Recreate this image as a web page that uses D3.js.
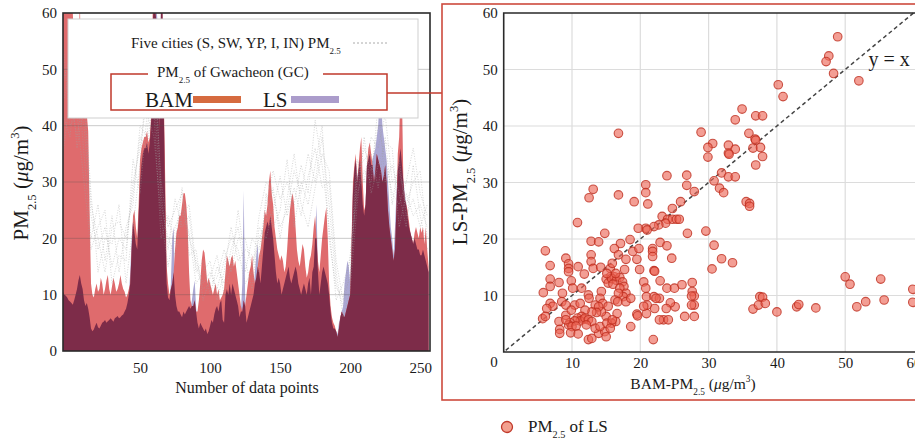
<!DOCTYPE html>
<html><head><meta charset="utf-8">
<script src="https://cdn.jsdelivr.net/npm/d3@7"></script>
<style>body{margin:0;background:#fff}svg text{font-family:"Liberation Serif","DejaVu Serif",serif;fill:#1a1a1a}</style>
</head><body><svg id="c" width="915" height="441"></svg>
<script>
// ---- Time series (index i plotted at x = i - 5) ----
const bam = [62,61,62,60,61,60,62,60,54,52,55,50,63,48,46,44,45,42,39,
25,12,10,9.5,11,12,10.5,11,13,12,10,11,12.5,13.5,11,10,11.5,13,12,10.5,11,12,13.5,12,11,10.5,9.5,10,11,
12,18,24,25,22,20,26,34,36,37,38,
38,39,37,38,42,60,62,60,58,55,40,62,60,45,
30,15,12,10,11,12,14,18,21,22,24,24,26,28,28,26,22,14,9,8,8,9,7,7,9,12,16,18,17.5,15,12,13,12,11,10,11,12,10,
11,9,9.5,10,11,14,17,16,15,16.5,17,15,16,14,12,10,8,7,9,8,10,12,14,15,17,14,12,13,15,17,
18,20,22,25,24,26,30,32,28,26,22,20,18,17,16,17,16,14,15,18,22,25,27,28,26,22,18,16,15,17,19,18,15,13,14,16,17,19,22,24,20,16,14,17,20,22,24,25.5,20,12,
8,6,5,4.5,3.5,2.5,4,6,7,6.5,6,7,8,9,10,20,30,33,35,30,33,36,38,30,25,26,33,36,37,35,33,30,32,35,34,33,32,30,31,33,30,25,22,20,18,16,18,25,35,38,47,45,30,27,26,25,23,21,20,19,21,22,21,20,22,21,22,19,22,18,15];
const ls = [10.5,10,9.8,9.5,9,8.8,8.5,8.2,9,10,11,12.5,13.5,12,11,9,8,8.5,7.5,
6,4,3.5,3.8,4.5,5,4.2,4,4.5,5,5.2,5.5,5,5.3,5.5,5.8,5.5,5.2,5.8,6,6.2,5.8,6,6.3,6.5,7,7.5,8.5,10,
14,20,23,21,19,18,24,30,33,35,36,
36,37,35,37,41,58,62,63,60,57,39,63,61,42,
25,12,9.5,9,12,20,22,10,8,7,7,6.5,6,7,6.5,7,7.5,8,7.5,9,11,12.5,8,5,4,5,4.5,4,3.5,4,3,3.5,4.5,5.5,5,6.5,7.5,8,
7,8.5,9,5.5,5,10,11,10,12,10,12,11,10,9,8,6,7,12,28.5,10,5,6,7,8,9,10,14,17,19,14,
12,15,18,21,22,23,22,24,22,20,17,14,12,13,12,10,11,12,13,14,15,13,12,13,14,15,14,12,11,10,11,12,11,10,12,13,10,14,15,20,26,14,10,12,14,15,14,13,12,10,
7,5,4,4,3.5,3,5,6,7,8,12,14,16,15,12,18,28,32,34,31,32,34,30,26,24,26,33,34,35,33,34,35,36,38,40,45,47,40,38,36,34,30,26,22,20,17,22,28,32,34,36,33,30,28,26,24,22,21,20,19,20,19,18,18,17,17,18,17,16,15,14];
// Five cities, sampled every 5th index
const city1 = [48,52,45,40,24,18,22,15,20,18,30,36,45,50,30,22,25,28,20,16,12,14,11,16,20,18,12,14,24,30,28,22,25,32,28,35,30,38,26,12,8,14,30,36,32,40,34,28,26,30,36,28,24];
const city2 = [42,38,50,35,20,26,16,24,14,22,26,40,38,55,28,18,27,22,24,14,16,10,15,12,18,22,14,20,18,26,32,27,30,26,33,28,41,33,22,9,12,16,34,30,38,36,42,30,32,26,30,32,20];
const city3 = [35,45,38,46,28,14,20,19,26,12,22,33,50,42,20,24,19,29,17,18,9,13,17,10,15,25,16,11,22,20,25,31,24,29,24,31,36,29,30,14,6,11,26,38,28,33,37,36,22,28,24,26,22];
const city4 = [55,40,42,30,18,22,25,12,17,16,34,28,42,38,24,15,22,25,21,12,14,16,9,14,22,16,18,17,14,28,22,25,34,22,30,26,33,40,20,11,10,13,32,34,35,29,38,26,34,24,27,22,26];
const city5 = [44,50,36,44,26,20,14,22,23,20,28,38,36,46,26,20,17,24,26,15,11,12,13,18,14,20,20,15,20,23,29,20,27,35,26,22,29,35,32,16,9,17,28,32,30,44,30,33,28,22,33,24,18];
const leftYTicks = [0,10,20,30,40,50,60];
const leftXTicks = [50,100,150,200,250];
// ---- Scatter ----
const scatterBAM = [48.9,47.6,47.2,48.3,52.0,40.2,40.9,34.9,36.9,37.9,33.9,28.9,35.9,36.8,36.9,16.8,30.6,29.9,32.9,36.5,37.6,33.9,32.9,33.0,29.9,37.9,36.9,30.8,31.9,32.9,33.9,31.6,32.2,27.9,26.8,26.8,23.9,20.8,20.8,16.8,13.1,12.5,35.5,36.0,36.0,
19.1,21.1,25.9,24.7,23.2,24.0,24.7,25.3,25.7,10.8,23.7,22.7,22.0,20.8,19.7,26.9,29.6,14.8,30.8,31.9,30.5,33.5,21.0,12.8,13.9,17.1,18.5,6.1,16.2,18.9,19.8,22.9,23.9,21.8,21.8,21.8,24.6,12.8,12.8,13.1,16.8,17.9,19.5,9.1,9.5,9.5,9.5,6.8,6.8,6.8,8.1,10.9,11.8,14.2,15.6,15.9,17.7,19.9,22.0,22.1,
16.2,15.6,15.0,15.3,15.8,16.5,17.0,16.4,16.0,17.4,17.6,17.0,17.9,17.5,16.8,16.3,
15.1,9.9,10.1,11.4,12.4,14.3,14.1,5.8,8.6,8.5,9.1,10.4,11.2,12.5,13.4,14.5,15.3,16.7,17.9,18.6,20.5,20.8,20.9,22.0,22.8,22.9,23.9,25.0,26.1,27.6,27.6,27.9,27.5,27.9,27.5,27.9,26.5,25.1,24.4,23.8,23.4,24.1,22.8,22.3,22.1,21.0,20.9,20.5,19.5,19.6,18.6,21.9,16.6,16.4,15.8,15.0,14.3,13.9,13.6,12.9,11.9,11.4,
10.8,11.7,11.2,10.4,9.7,9.5,10.0,10.6,11.9,12.4,12.9,12.1,
8.1,8.2,8.2,9.8,10.9,12.4,12.9,13.9,14.8,15.0,13.4,14.1,15.1,15.6,15.9,6.8,7.2,6.3,5.7,6.1,9.1,9.9,9.1,
36.5,37.3,37.5,37.9,38.3,40.0,42.9,43.2,45.7,50.0,50.7,51.7,53.0,55.2,55.7,59.9,59.9];
const scatterLS = [55.8,52.4,51.4,49.3,48.0,47.3,45.2,43.0,41.8,41.8,41.1,38.9,38.7,37.7,37.5,38.7,36.9,36.2,36.6,36.1,36.2,35.9,35.2,35.0,34.5,34.6,33.1,30.3,31.7,31.0,31.0,29.0,28.2,28.4,31.3,29.5,31.2,29.6,28.2,27.8,28.8,27.3,26.6,26.3,25.8,
26.6,26.2,26.6,25.4,24.0,23.5,23.5,23.5,23.5,22.9,22.8,22.5,22.2,21.9,21.9,21.0,21.4,21.0,18.9,16.5,14.7,15.8,21.6,19.6,19.5,19.2,19.9,17.9,18.3,17.8,18.3,19.4,18.8,18.3,17.8,16.9,16.6,17.2,16.0,14.8,17.2,16.4,16.4,16.6,15.6,14.8,14.2,15.3,12.9,11.6,12.3,15.1,13.8,15.0,14.8,15.7,14.6,14.6,14.4,14.3,
13.3,13.3,12.9,12.2,13.0,12.7,13.2,13.9,12.0,12.4,11.6,11.3,10.4,9.8,10.4,9.2,
13.9,12.6,11.3,11.3,10.1,10.7,9.5,10.5,10.4,8.9,8.3,8.3,8.6,9.5,8.3,8.6,8.1,8.9,8.9,9.5,12.4,11.3,9.8,9.8,9.5,12.6,11.3,11.3,11.9,12.3,10.7,9.9,9.9,8.3,8.3,6.3,6.3,8.0,8.7,7.7,5.7,5.7,5.7,9.5,7.7,8.3,6.8,8.1,6.7,6.4,4.5,2.2,6.8,5.4,5.1,6.3,7.1,8.0,7.0,7.1,7.4,6.3,
6.0,5.8,5.5,5.5,5.2,4.8,4.5,4.6,6.0,5.7,5.4,4.8,
5.4,4.0,3.3,3.4,3.2,2.2,2.4,3.3,3.6,2.7,4.2,4.5,5.1,4.2,5.7,8.6,8.1,7.7,5.9,6.3,6.5,7.4,5.7,
7.6,8.3,9.8,9.7,8.6,7.1,8.0,8.4,7.8,13.3,12.0,8.0,8.9,12.9,9.2,11.1,8.8];
const rightTicks = [10,20,30,40,50,60];

const svg = d3.select('#c');

function rich(g, x, y, size, parts, anchor) {
  const t = g.append('text').attr('x', x).attr('y', y).attr('font-size', size)
    .attr('text-anchor', anchor || 'start');
  let shift = 0;
  parts.forEach(([s, k]) => {
    const target = k === 'sub' ? size * 0.38 : k === 'sup' ? -size * 0.42 : 0;
    const ts = t.append('tspan').attr('dy', target - shift).text(s);
    if (k === 'sub' || k === 'sup') ts.attr('font-size', size * 0.6);
    if (k === 'it') ts.attr('font-style', 'italic');
    shift = target;
  });
  return t;
}

// ================= LEFT CHART =================
const xL = d3.scaleLinear().domain([-5, 257]).range([63, 430]);
const yL = d3.scaleLinear().domain([0, 60]).range([351, 13]);
const gL = svg.append('g');
svg.append('clipPath').attr('id', 'clipL').append('rect')
  .attr('x', 63).attr('y', 13).attr('width', 367).attr('height', 338);
const plotL = gL.append('g').attr('clip-path', 'url(#clipL)');
const idx = d3.range(bam.length);
const area = acc => d3.area().x(i => xL(i - 5)).y0(yL(0)).y1(i => yL(acc(i)));
plotL.append('path').datum(idx).attr('d', area(i => ls[i])).attr('fill', '#aba7d3');
plotL.append('path').datum(idx).attr('d', area(i => bam[i])).attr('fill', '#df6b6d');
plotL.append('path').datum(idx).attr('d', area(i => Math.min(bam[i], ls[i]))).attr('fill', '#7d2c49');
// grid
plotL.selectAll('.gl').data([10, 20, 30, 40, 50]).enter().append('line')
  .attr('x1', 63).attr('x2', 430).attr('y1', d => yL(d)).attr('y2', d => yL(d))
  .attr('stroke', 'rgba(80,80,80,0.3)').attr('stroke-width', 1);
// city lines
const lineC = d3.line().x((d, k) => xL(k * 5 - 5)).y(d => yL(d));
[city1, city2, city3, city4, city5].forEach(c => {
  plotL.append('path').datum(c).attr('d', lineC).attr('fill', 'none')
    .attr('stroke', '#a0a0a0').attr('stroke-width', 0.8).attr('stroke-dasharray', '1,1.6').attr('opacity', 0.55);
});
gL.append('rect').attr('x', 63).attr('y', 13).attr('width', 367).attr('height', 338)
  .attr('fill', 'none').attr('stroke', '#2a2a2a').attr('stroke-width', 1.6);
// axes
const axL = gL.append('g').attr('transform', 'translate(63,0)')
  .call(d3.axisLeft(yL).tickValues(leftYTicks).tickSize(0).tickPadding(6));
const axB = gL.append('g').attr('transform', 'translate(0,351)')
  .call(d3.axisBottom(xL).tickValues(leftXTicks).tickSize(0).tickPadding(11));
[axL, axB].forEach(a => {
  a.select('.domain').remove();
  a.selectAll('text').attr('font-size', 15).attr('font-family', '"Liberation Serif",serif').attr('fill', '#1a1a1a');
});
gL.append('text').attr('x', 247).attr('y', 393).attr('text-anchor', 'middle').attr('font-size', 16)
  .text('Number of data points');
const yLab = gL.append('g').attr('transform', 'translate(28,183) rotate(-90)');
rich(yLab, 0, 0, 21, [['PM', 'n'], ['2.5', 'sub'], [' (', 'n'], ['μ', 'it'], ['g/m', 'n'], ['3', 'sup'], [')', 'n']], 'middle');

// legend
gL.append('rect').attr('x', 68).attr('y', 19).attr('width', 350).attr('height', 99)
  .attr('fill', '#fff').attr('stroke', '#cfcfcf').attr('stroke-width', 1);
rich(gL, 131, 48, 15, [['Five cities (S, SW, YP, I, IN) PM', 'n'], ['2.5', 'sub']]);
gL.append('line').attr('x1', 353).attr('x2', 388).attr('y1', 43).attr('y2', 43)
  .attr('stroke', '#aaa').attr('stroke-width', 1).attr('stroke-dasharray', '2,2');
gL.append('path').attr('d', 'M148,74 H111 V110 H387 V74 H323').attr('fill', 'none')
  .attr('stroke', '#c0392b').attr('stroke-width', 1.5);
rich(gL, 157, 77, 15, [['PM', 'n'], ['2.5', 'sub'], [' of Gwacheon (GC)', 'n']]);
gL.append('text').attr('x', 145).attr('y', 107).attr('font-size', 21).text('BAM');
gL.append('rect').attr('x', 193).attr('y', 96).attr('width', 48).attr('height', 7).attr('fill', '#d66b3f');
gL.append('text').attr('x', 263).attr('y', 107).attr('font-size', 21).text('LS');
gL.append('rect').attr('x', 291).attr('y', 96).attr('width', 48).attr('height', 7).attr('fill', '#ab9ccb');
// connector
svg.append('line').attr('x1', 387).attr('x2', 442).attr('y1', 93).attr('y2', 93)
  .attr('stroke', '#c0392b').attr('stroke-width', 1.5);

// ================= RIGHT CHART =================
svg.append('rect').attr('x', 442).attr('y', 4).attr('width', 480).attr('height', 396)
  .attr('fill', 'none').attr('stroke', '#cd4a3d').attr('stroke-width', 1.6);
const xR = d3.scaleLinear().domain([0, 60]).range([503.7, 913.5]);
const yR = d3.scaleLinear().domain([0, 60]).range([352, 13]);
const gR = svg.append('g');
gR.selectAll('.gx').data([10, 20, 30, 40, 50]).enter().append('line')
  .attr('x1', d => xR(d)).attr('x2', d => xR(d)).attr('y1', 13).attr('y2', 352)
  .attr('stroke', '#dcdcdc').attr('stroke-width', 1.2);
gR.selectAll('.gy').data([10, 20, 30, 40, 50]).enter().append('line')
  .attr('x1', 503.7).attr('x2', 920).attr('y1', d => yR(d)).attr('y2', d => yR(d))
  .attr('stroke', '#dcdcdc').attr('stroke-width', 1.2);
gR.append('line').attr('x1', xR(0.3)).attr('y1', yR(0.3)).attr('x2', xR(60)).attr('y2', yR(60))
  .attr('stroke', '#444').attr('stroke-width', 1.5).attr('stroke-dasharray', '4,3');
gR.selectAll('circle.pt').data(d3.range(scatterBAM.length)).enter().append('circle')
  .attr('cx', i => xR(scatterBAM[i])).attr('cy', i => yR(scatterLS[i])).attr('r', 4.3)
  .attr('fill', 'rgba(236,98,82,0.62)').attr('stroke', 'rgba(190,45,30,0.8)').attr('stroke-width', 1.1);
gR.append('path').attr('d', `M920,13 H503.7 V352 H920`).attr('fill', 'none')
  .attr('stroke', '#2a2a2a').attr('stroke-width', 1.6);
const axRL = gR.append('g').attr('transform', 'translate(503.7,0)')
  .call(d3.axisLeft(yR).tickValues(rightTicks).tickSize(0).tickPadding(6));
const axRB = gR.append('g').attr('transform', 'translate(0,352)')
  .call(d3.axisBottom(xR).tickValues(rightTicks).tickSize(0).tickPadding(5));
[axRL, axRB].forEach(a => {
  a.select('.domain').remove();
  a.selectAll('text').attr('font-size', 15).attr('font-family', '"Liberation Serif",serif').attr('fill', '#1a1a1a');
});
gR.append('text').attr('x', xR(0) - 6).attr('y', 367).attr('text-anchor', 'end').attr('font-size', 15).text('0');
gR.append('text').attr('x', xR(53.4)).attr('y', yR(50.6)).attr('font-size', 20).text('y = x');
rich(gR, 693, 389, 15.5, [['BAM-PM', 'n'], ['2.5', 'sub'], [' (', 'n'], ['μ', 'it'], ['g/m', 'n'], ['3', 'sup'], [')', 'n']], 'middle');
const yLabR = gR.append('g').attr('transform', 'translate(467,172) rotate(-90)');
rich(yLabR, 0, 0, 21, [['LS-PM', 'n'], ['2.5', 'sub'], [' (', 'n'], ['μ', 'it'], ['g/m', 'n'], ['3', 'sup'], [')', 'n']], 'middle');
// scatter legend
gR.append('circle').attr('cx', 507).attr('cy', 427).attr('r', 5.5)
  .attr('fill', '#f3a08f').attr('stroke', '#c0392b').attr('stroke-width', 1.3);
rich(gR, 528, 432, 17, [['PM', 'n'], ['2.5', 'sub'], [' of LS', 'n']]);
</script></body></html>
